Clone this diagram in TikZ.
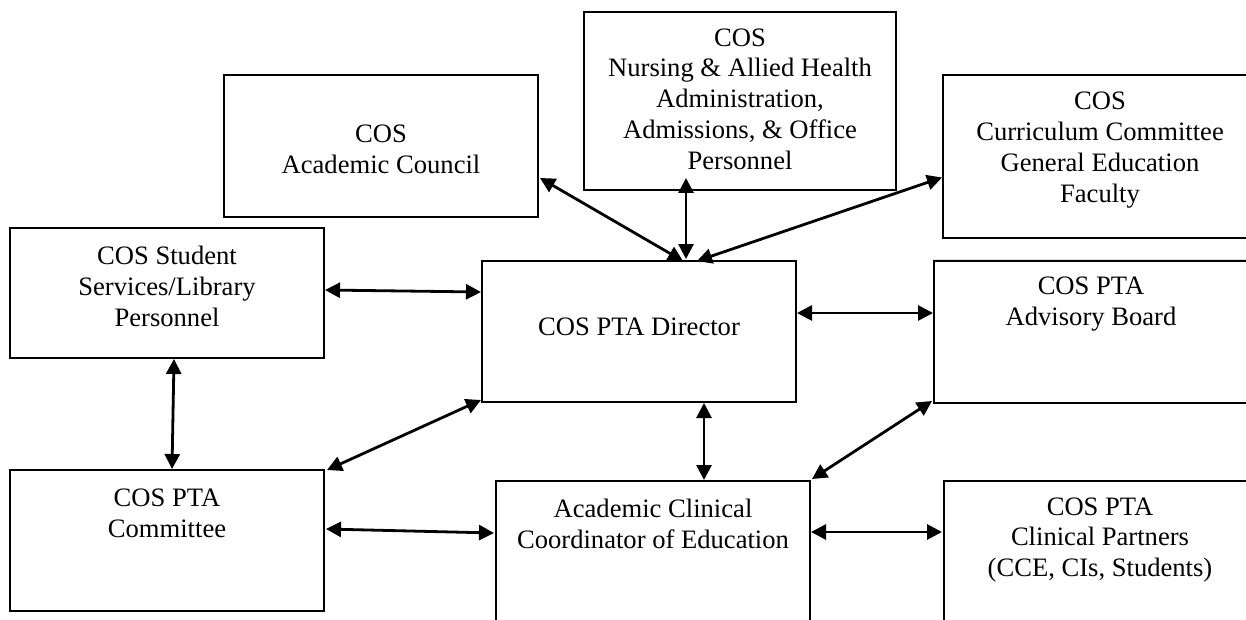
\documentclass[tikz,border=0pt]{standalone}
\usepackage{fontspec}
\setmainfont{Liberation Serif}
\usetikzlibrary{arrows.meta,calc}
\begin{document}
\begin{tikzpicture}[x=0.5pt,y=-0.5pt,
  box/.style={draw,line width=1pt,minimum width=157pt,inner sep=0pt},
  caption/.style={align=center,font=\fontsize{13.3}{15.4}\selectfont,inner sep=0pt},
  link/.style={line width=1.4pt,{Triangle[length=7.5pt,width=7.5pt]}-{Triangle[length=7.5pt,width=7.5pt]}}]
\useasboundingbox (0,0) rectangle (1246,620);
\clip (0,0) rectangle (1246,620);

% faint rule under the curriculum box
\coordinate (ruleA) at (933,259);
\coordinate (ruleB) at (1246,259);
\draw[black!12,line width=0.5pt] (ruleA) -- (ruleB);

% boxes
\node[box,minimum height=71pt]   (acad) at (381,146)   {};
\node[box,minimum height=89pt,minimum width=156pt] (nurs) at (740,101) {};
\node[box,minimum height=81.5pt] (curr) at (1100,156.5) {};
\node[box,minimum height=65pt]   (stud) at (167,293)   {};
\node[box,minimum height=70.5pt] (dir)  at (639,331.5) {};
\node[box,minimum height=71pt]   (adv)  at (1091,332)  {};
\node[box,minimum height=70.5pt] (comm) at (167,540.5) {};
\node[box,minimum height=79.5pt] (acce) at (653,560.5) {};
\node[box,minimum height=79.5pt] (clin) at (1101,560.5) {};

% texts
\node[caption] (acad-t) at (381,149.5) {COS\\Academic Council};
\node[caption] (nurs-t) at (740,99) {COS\\Nursing \& Allied Health\\Administration,\\Admissions, \& Office\\Personnel};
\node[caption] (curr-t) at (1100,150) {COS\\Curriculum Committee\\General Education\\Faculty};
\node[caption] (stud-t) at (167,286.5) {COS Student\\Services/Library\\Personnel};
\node[caption] (dir-t)  at (639,327) {COS PTA Director};
\node[caption] (adv-t)  at (1091,304) {COS PTA\\Advisory Board};
\node[caption] (comm-t) at (167,513.5) {COS PTA\\Committee};
\node[caption] (acce-t) at (653,524) {Academic Clinical\\Coordinator of Education};
\node[caption] (clin-t) at (1100,540) {COS PTA\\Clinical Partners\\(CCE, CIs, Students)};

% two-way links
\draw[link] ($(acad.south east)+(1,-40)$) -- ($(dir.north)+(44,1)$);
\draw[link] ($(nurs.south)+(-54,-13)$) -- ($(dir.north)+(47,-1)$);
\draw[link] ($(curr.west)+(0,21)$) -- ($(dir.north)+(58,1)$);
\draw[link] ($(stud.east)+(0,-3)$) -- ($(dir.west)+(0,-39.5)$);
\draw[link] ($(dir.east)+(0,-18.5)$) -- ($(adv.west)+(0,-19)$);
\draw[link] ($(stud.south)+(7,0)$) -- ($(comm.north)+(5,0)$);
\draw[link] ($(dir.south west)+(0,-3)$) -- ($(comm.north east)+(2,1)$);
\draw[link] ($(dir.south)+(65,0)$) -- ($(acce.north)+(51,0)$);
\draw[link] ($(adv.south west)+(-1,-3)$) -- ($(acce.north east)+(1,-1)$);
\draw[link] ($(comm.east)+(1,-11.5)$) -- ($(acce.west)+(-1,-27.5)$);
\draw[link] ($(acce.east)+(0,-28.5)$) -- ($(clin.west)+(-1,-28.5)$);
\end{tikzpicture}
\end{document}
